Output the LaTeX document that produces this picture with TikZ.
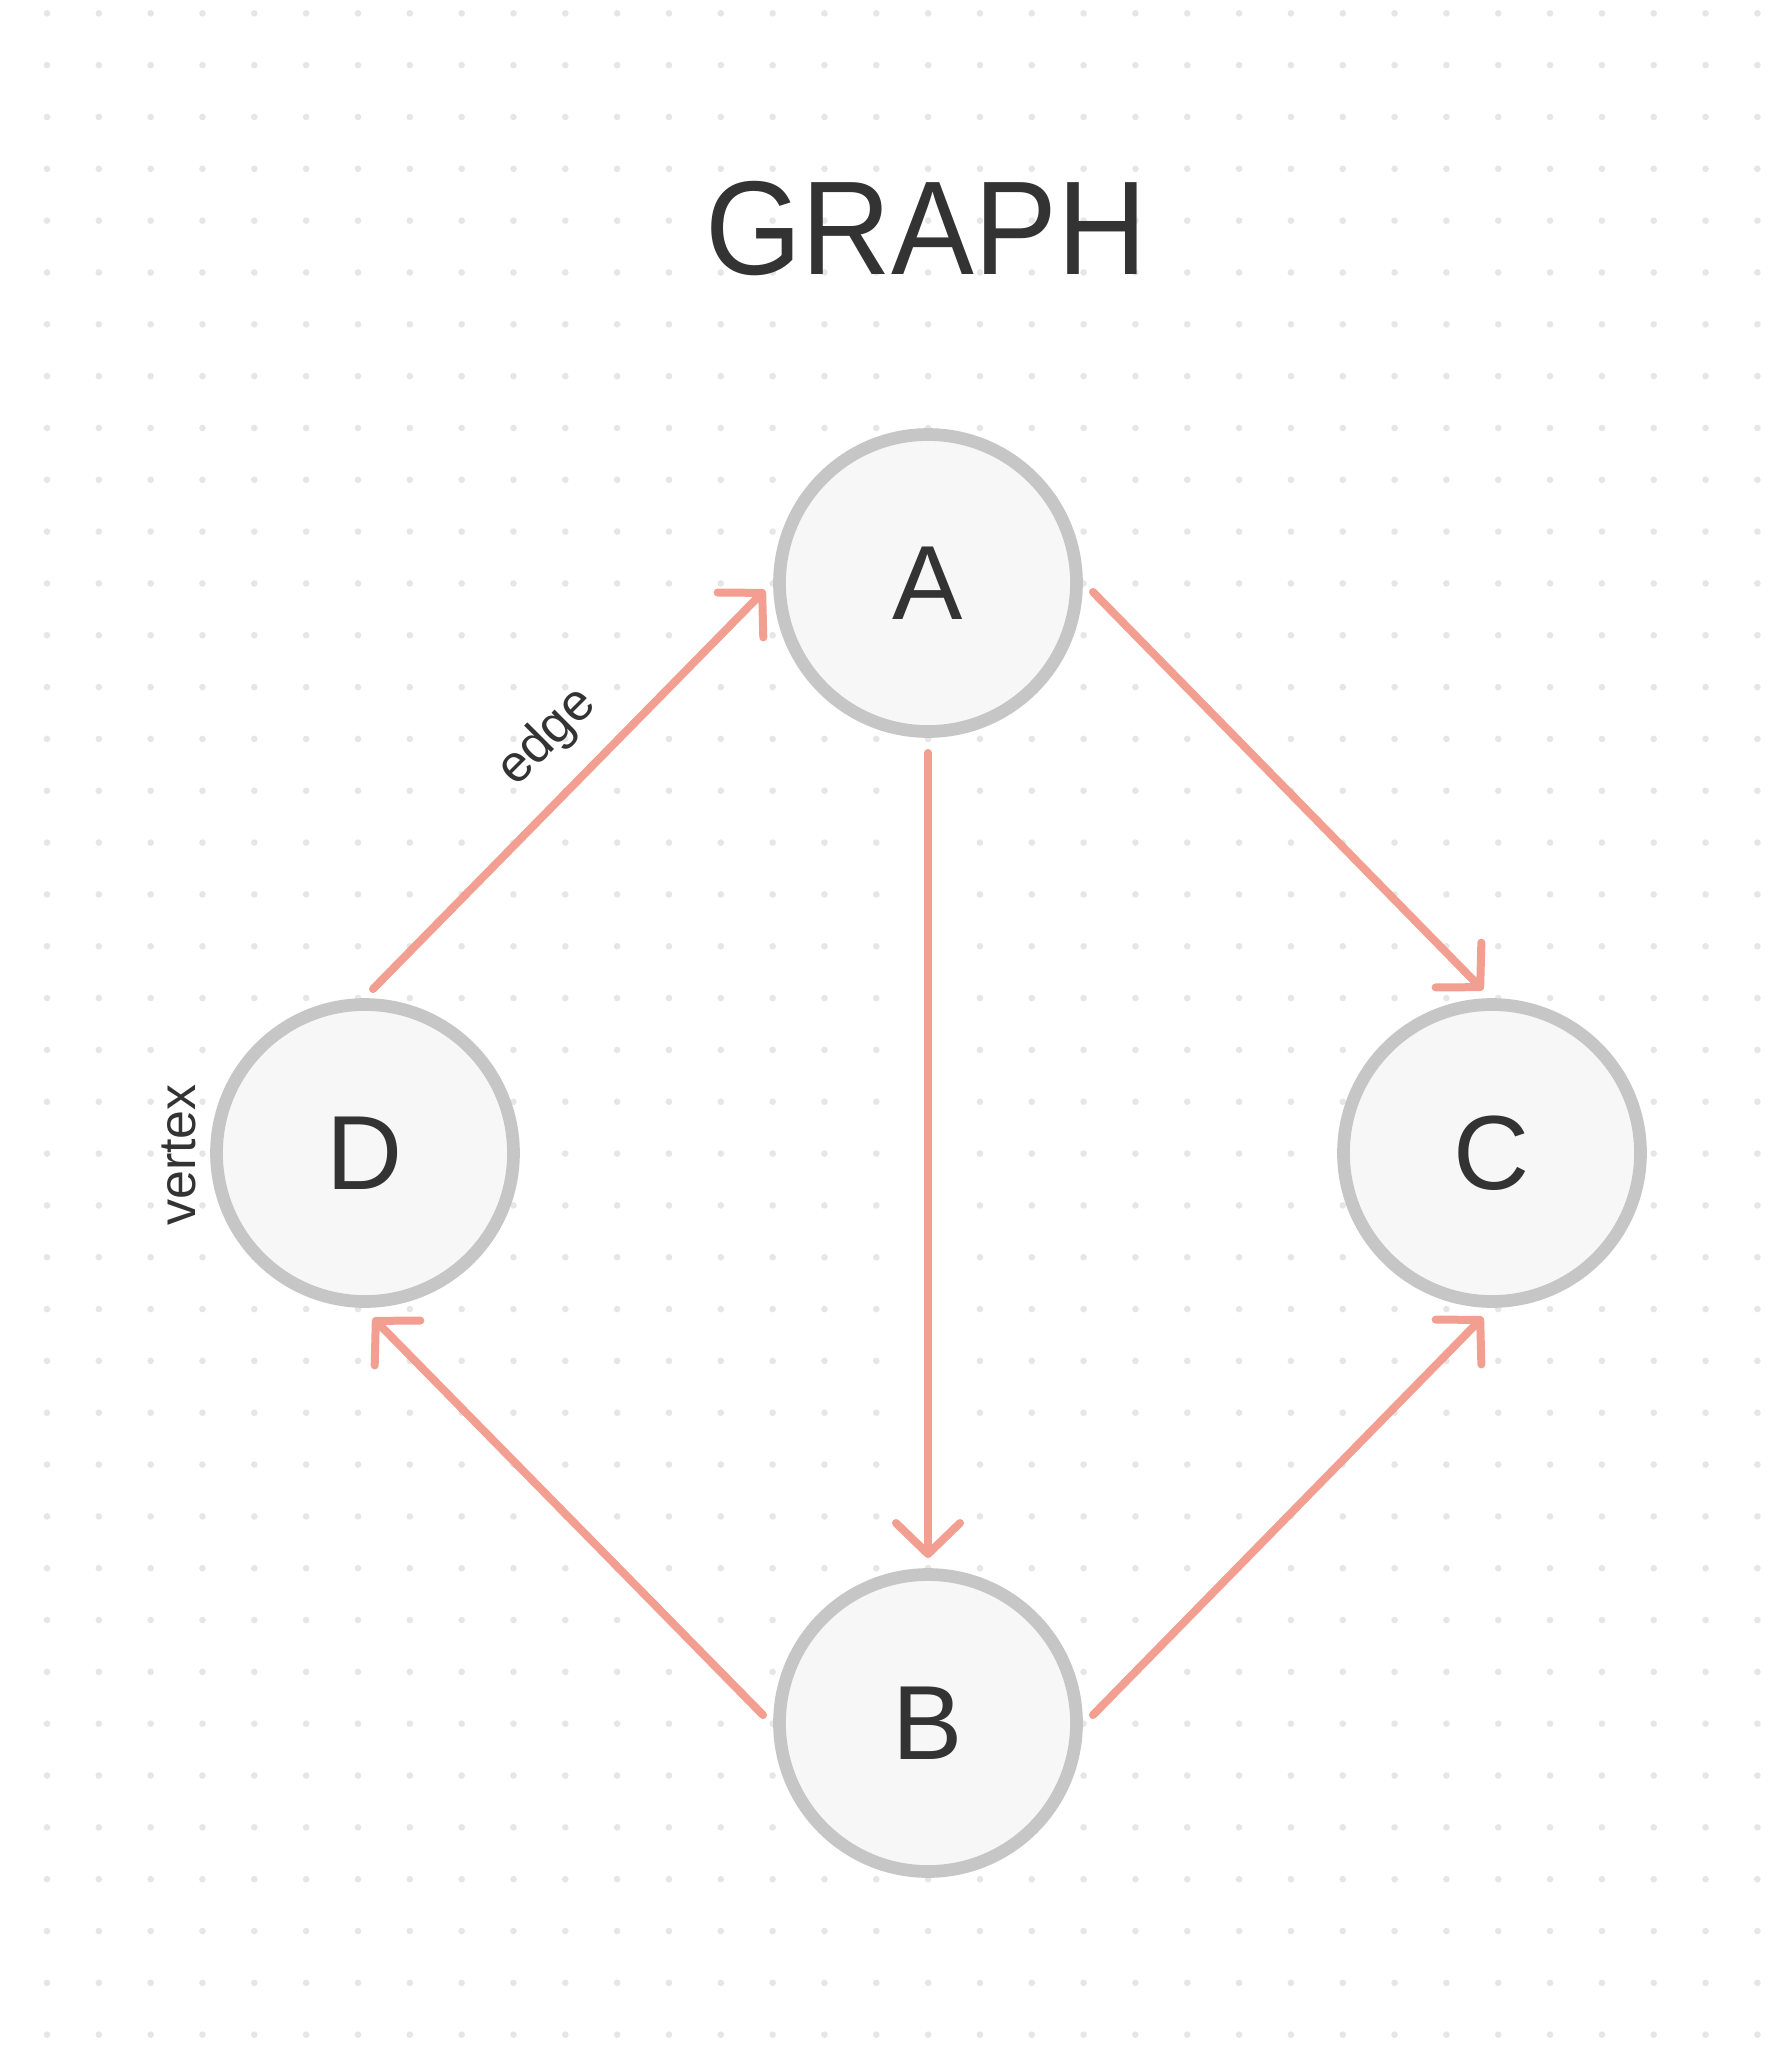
\documentclass[tikz,border=0pt]{standalone}
\usepackage{fontspec}
\setmainfont{Liberation Sans}
\usetikzlibrary{arrows.meta,calc}
\definecolor{textc}{HTML}{333333}
\definecolor{edgec}{HTML}{F29E91}
\definecolor{ringc}{HTML}{C6C6C6}
\definecolor{fillc}{HTML}{F7F7F7}
\definecolor{dotc}{HTML}{E6E6E6}
\tikzset{
  vertexnode/.style={circle, draw=ringc, fill=fillc, line width=1.27mm,
    minimum size=29.7mm, inner sep=0pt, text=textc, font=\fontsize{30pt}{30pt}\selectfont},
  edgeline/.style={draw=edgec, line width=0.8mm, line cap=round, line join=round,
    -{Straight Barb[length=3.1mm, width=6.4mm, line cap=round, line join=round]}},
  smalllabel/.style={text=textc, font=\fontsize{14.8pt}{15pt}\selectfont, inner sep=0pt}
}
\begin{document}
\begin{tikzpicture}[x=0.1mm, y=-0.1mm]
\useasboundingbox (0,0) rectangle (1792,2058);
\fill[white] (0,0) rectangle (1792,2058);
% dot grid
\foreach \i in {0,...,33} {
  \foreach \j in {0,...,39} {
    \fill[dotc] ({47+51.83*\i},{13.3+51.83*\j}) circle[radius=0.33mm];
  }
}
% title
\node[text=textc, font=\fontsize{38pt}{38pt}\selectfont, anchor=base, inner sep=0pt, xscale=0.93] (title) at (926,274) {GRAPH};
% vertices
\node[vertexnode] (A) at (928,583) {A};
\node[vertexnode] (D) at (365,1153) {D};
\node[vertexnode] (C) at (1492,1153) {C};
\node[vertexnode] (B) at (928,1723) {B};
% edges
\draw[edgeline] ($(D)+(8,-164)$) -- ($(A)+(-163,7)$);
\draw[edgeline] ($(A)+(165,9)$) -- ($(C)+(-9,-163)$);
\draw[edgeline] ($(A)+(0,170)$) -- ($(B)+(0,-165)$);
\draw[edgeline] ($(B)+(-165,-8)$) -- ($(D)+(8,165)$);
\draw[edgeline] ($(B)+(165,-8)$) -- ($(C)+(-9,164)$);
% labels
\node[smalllabel, rotate=45, anchor=base] (edgelabel) at (557,747) {edge};
\node[smalllabel, rotate=90, anchor=base] (vertexlabel) at (195,1155) {vertex};
\end{tikzpicture}
\end{document}
